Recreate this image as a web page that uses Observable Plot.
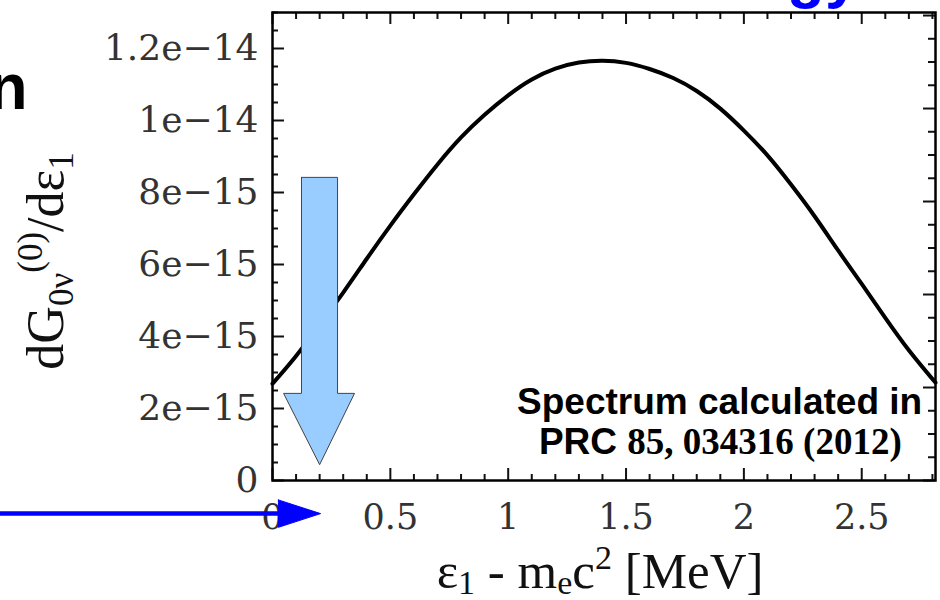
<!DOCTYPE html>
<html>
<head>
<meta charset="utf-8">
<script src="https://cdn.jsdelivr.net/npm/d3@7"></script>
<script src="https://cdn.jsdelivr.net/npm/@observablehq/plot@0.6"></script>
<style>
  html, body { margin: 0; padding: 0; background: #fff; }
  #chart svg { display: block; }
</style>
</head>
<body>
<div id="chart"></div>
<script>
// ---- Data (x: ε1 - mec² in MeV, y: dG/dε1) ----
const energy = [0, 0.1, 0.2, 0.3, 0.4, 0.5, 0.6, 0.7, 0.8, 0.9, 1.0, 1.1, 1.2, 1.3, 1.4,
                1.5, 1.6, 1.7, 1.8, 1.9, 2.0, 2.1, 2.2, 2.3, 2.4, 2.5, 2.6, 2.7, 2.813];
const rateE15 = [2.69, 3.46, 4.33, 5.22, 6.16, 7.08, 7.95, 8.78, 9.53, 10.16, 10.70, 11.14, 11.44, 11.61, 11.66,
                 11.6, 11.43, 11.18, 10.82, 10.33, 9.72, 9.03, 8.22, 7.34, 6.39, 5.46, 4.52, 3.62, 2.72];

const yMajorValues = [0, 2e-15, 4e-15, 6e-15, 8e-15, 1e-14, 1.2e-14];
const yTickLabels  = ["0", "2e\u221215", "4e\u221215", "6e\u221215", "8e\u221215", "1e\u221214", "1.2e\u221214"];
const xMajorValues = [0, 0.5, 1, 1.5, 2, 2.5];
const xTickLabels  = ["0", "0.5", "1", "1.5", "2", "2.5"];

// Annotation shapes, in data units (x in MeV, y in units of 1e-15)
const downArrowX = [0.123, 0.276, 0.276, 0.348, 0.2, 0.047, 0.123, 0.123];
const downArrowY = [8.42, 8.42, 2.42, 2.42, 0.44, 2.42, 2.42, 8.42];
const blueShaftX = [-1.2, 0.03];
const blueShaftY = [-0.92, -0.92];
const blueHeadX  = [0.025, 0.204, 0.025, 0.025];
const blueHeadY  = [-0.54, -0.92, -1.30, -0.54];

const xLabelText = "ε1 - mec2 [MeV]";
const yLabelText = "dG0ν(0)/dε1";
const noteLine1 = "Spectrum calculated in";
const noteLine2 = "PRC 85, 034316 (2012)";

// ---- Build tables ----
const E15 = 1e-15;
const curve = energy.map((e, i) => ({e, rate: rateE15[i] * E15}));
const downArrow = downArrowX.map((x, i) => ({x, y: downArrowY[i] * E15}));
const blueShaft = blueShaftX.map((x, i) => ({x, y: blueShaftY[i] * E15}));
const blueHead = blueHeadX.map((x, i) => ({x, y: blueHeadY[i] * E15}));

const xMinor = d3.range(1, 29).filter(i => i % 5 !== 0).map(i => i / 10);
const yMinor = d3.range(1, 27).filter(i => i % 4 !== 0).map(i => i * 0.5e-15);
const rightStep = 0.6458e-15;
const rightMajor = d3.range(0, 6).map(k => k * 4 * rightStep);
const rightMinor = d3.range(1, 21).filter(i => i % 4 !== 0).map(i => i * rightStep);

const W = 940, H = 600, mL = 272, mR = 5, mT = 12, mB = 120;
const FW = W - mL - mR, FH = H - mT - mB;
const tickCol = "#111";

const plot = Plot.plot({
  width: W, height: H,
  marginLeft: mL, marginRight: mR, marginTop: mT, marginBottom: mB,
  style: {background: "white", overflow: "visible"},
  x: {domain: [0, 2.813], axis: null},
  y: {domain: [0, 1.3e-14], axis: null},
  marks: [
    // ticks (inward)
    Plot.tickY(yMajorValues, {y: d => d, stroke: tickCol, strokeWidth: 2, insetRight: FW - 12}),
    Plot.tickY(yMinor, {y: d => d, stroke: tickCol, strokeWidth: 2, insetRight: FW - 6}),
    Plot.tickY(rightMajor, {y: d => d, stroke: tickCol, strokeWidth: 2, insetLeft: FW - 12}),
    Plot.tickY(rightMinor, {y: d => d, stroke: tickCol, strokeWidth: 2, insetLeft: FW - 7}),
    Plot.tickX(xMajorValues, {x: d => d, stroke: tickCol, strokeWidth: 2, insetTop: FH - 12}),
    Plot.tickX(xMinor, {x: d => d, stroke: tickCol, strokeWidth: 2, insetTop: FH - 6}),
    Plot.tickX(xMajorValues, {x: d => d, stroke: tickCol, strokeWidth: 2, insetBottom: FH - 12}),
    Plot.tickX(xMinor, {x: d => d, stroke: tickCol, strokeWidth: 2, insetBottom: FH - 7}),
    // tick labels
    Plot.text(yMajorValues, {y: d => d, text: (d, i) => yTickLabels[i], frameAnchor: "left", dx: -14,
      textAnchor: "end", lineAnchor: "middle", fontFamily: "DejaVu Serif", fontSize: 36, fill: "#333"}),
    Plot.text(xMajorValues, {x: d => d, text: (d, i) => xTickLabels[i], frameAnchor: "bottom", dy: 48,
      textAnchor: "middle", lineAnchor: "bottom", fontFamily: "DejaVu Serif", fontSize: 35, fill: "#333"}),
    // axis labels
    Plot.text([xLabelText], {x: 1.39, y: -2.98e-15, text: d => d, textAnchor: "middle", lineAnchor: "bottom",
      fontFamily: "Liberation Serif", fontSize: 51, fill: "#111"}),
    Plot.text([yLabelText], {x: -0.887, y: 6.1e-15, text: d => d, rotate: -90, textAnchor: "middle", lineAnchor: "bottom",
      fontFamily: "Liberation Serif", fontSize: 52, fill: "#111"}),
    // curve
    Plot.line(curve, {x: "e", y: "rate", stroke: "black", strokeWidth: 4, curve: "natural"}),
    // light blue down arrow
    Plot.line(downArrow, {x: "x", y: "y", fill: "#99ccff", stroke: "#444", strokeWidth: 1, strokeLinejoin: "miter"}),
    // note
    Plot.text([noteLine1], {x: 1.897, y: 1.861e-15, text: d => d, textAnchor: "middle", lineAnchor: "bottom",
      fontFamily: "Liberation Sans", fontWeight: "bold", fontSize: 37, fill: "black"}),
    Plot.text([noteLine2], {x: 1.90, y: 0.75e-15, text: d => d, textAnchor: "middle", lineAnchor: "bottom",
      fontFamily: "Liberation Serif", fontWeight: "bold", fontSize: 37, fill: "black"}),
    // blue horizontal arrow
    Plot.line(blueShaft, {x: "x", y: "y", stroke: "#0000ff", strokeWidth: 4.5}),
    Plot.line(blueHead, {x: "x", y: "y", fill: "#0000ff", stroke: "#0000ff", strokeWidth: 1}),
    // slide remnants
    Plot.text(["n"], {x: -1.039, y: 10.33e-15, text: d => d, textAnchor: "end", lineAnchor: "bottom",
      fontFamily: "Liberation Sans", fontWeight: "bold", fontSize: 64, fill: "black"}),
    Plot.text(["gy"], {x: 2.49, y: 13.45e-15, text: d => d, textAnchor: "end", lineAnchor: "bottom",
      fontFamily: "Liberation Sans", fontWeight: "bold", fontSize: 62, fill: "#0000ff"}),
    // frame
    Plot.frame({stroke: "black", strokeWidth: 2.5})
  ]
});

// ---- rich text (sub/superscripts) ----
function richText(node, parts) {
  node.textContent = "";
  for (const p of parts) {
    const t = document.createElementNS("http://www.w3.org/2000/svg", "tspan");
    t.textContent = p.t;
    if (p.fs) t.setAttribute("font-size", p.fs);
    if (p.dy) t.setAttribute("dy", p.dy);
    if (p.ff) t.setAttribute("font-family", p.ff);
    node.appendChild(t);
  }
}
d3.select(plot).selectAll("text").each(function() {
  const s = this.textContent;
  if (s === yLabelText) {
    richText(this, [
      {t: "dG"}, {t: "0ν", fs: 35, dy: 10}, {t: "(0)", fs: 35, dy: -31}, {t: "/dε", dy: 21}, {t: "1", fs: 35, dy: 10}
    ]);
  } else if (s === xLabelText) {
    richText(this, [
      {t: "ε"}, {t: "1", fs: 34, dy: 6}, {t: " - m", dy: -6}, {t: "e", fs: 34, dy: 6}, {t: "c", dy: -6},
      {t: "2", fs: 34, dy: -19}, {t: " [MeV]", dy: 19}
    ]);
  } else if (s === noteLine2) {
    richText(this, [
      {t: "PRC ", ff: "Liberation Sans"}, {t: "85, 034316 (2012)"}
    ]);
  }
});

document.getElementById("chart").appendChild(plot);
</script>
</body>
</html>
